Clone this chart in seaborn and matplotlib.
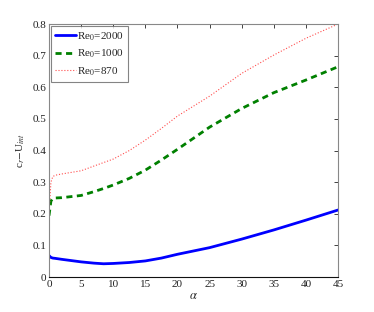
import matplotlib
matplotlib.use('Agg')
import matplotlib.pyplot as plt
import seaborn as sns
import pandas as pd
from matplotlib.ticker import FormatStrFormatter

# angle values (deg)
alpha = [0, 0.3, 0.6, 1, 2, 5, 7, 8.5, 10, 12.5, 15, 17.5, 20, 25, 30, 35, 40, 45]

# c_r - U_int for each Re_0
re2000 = [0.068, 0.062, 0.060, 0.059, 0.056, 0.048, 0.044, 0.042, 0.043, 0.046,
          0.051, 0.060, 0.072, 0.093, 0.120, 0.149, 0.180, 0.212]
re1000 = [0.194, 0.240, 0.249, 0.250, 0.251, 0.258, 0.270, 0.280, 0.291, 0.312,
          0.338, 0.370, 0.404, 0.474, 0.533, 0.583, 0.623, 0.665]
re870 = [0.20, 0.300, 0.318, 0.322, 0.326, 0.336, 0.351, 0.362, 0.373, 0.400,
         0.433, 0.470, 0.509, 0.572, 0.644, 0.702, 0.755, 0.800]

labels = ['Re$_0$=2000', 'Re$_0$=1000', 'Re$_0$=870']

df = pd.DataFrame({
    'alpha': alpha * 3,
    'value': re2000 + re1000 + re870,
    'series': [labels[0]] * len(alpha) + [labels[1]] * len(alpha) + [labels[2]] * len(alpha),
})

sns.set_style('white')
plt.rcParams['font.family'] = ['Liberation Serif', 'DejaVu Serif']
plt.rcParams['mathtext.fontset'] = 'stix'

fig = plt.figure(figsize=(3.74, 3.12), dpi=100)
ax = fig.add_axes([0.131, 0.112, 0.773, 0.811])

styles = {labels[0]: ('#0000ff', '-', 2.0),
          labels[1]: ('#008000', (0, (2.2, 1.6)), 2.0),
          labels[2]: ('#ff4d4d', ':', 0.8)}
for lab in labels:
    c, ls, lw = styles[lab]
    sns.lineplot(data=df[df['series'] == lab], x='alpha', y='value', ax=ax,
                 color=c, linestyle=ls, linewidth=lw, label=lab,
                 estimator=None, sort=False)

ax.set_xlim(0, 45)
ax.set_ylim(0, 0.8)
ax.set_xticks(range(0, 46, 5))
ax.set_yticks([i / 10 for i in range(9)])
ax.yaxis.set_major_formatter(FormatStrFormatter('%g'))
ax.tick_params(direction='in', length=3, width=0.6, top=True, right=True,
               labelsize=8, pad=2, colors='#222222')
for side in ['top', 'right', 'left']:
    ax.spines[side].set_color('#888888')
    ax.spines[side].set_linewidth(0.8)
ax.spines['bottom'].set_color('#111111')
ax.spines['bottom'].set_linewidth(0.8)

ax.set_xlabel(r'$\alpha$', fontsize=9, labelpad=1)
ax.set_ylabel(r'c$_r$$-$U$_{int}$', fontsize=8, labelpad=4)

leg = ax.legend(loc='upper left', fontsize=8, frameon=True, fancybox=False,
                borderaxespad=0.2, handlelength=1.9, handletextpad=0.05,
                labelspacing=0.45, borderpad=0.35)
leg.get_frame().set_edgecolor('#666666')
leg.get_frame().set_linewidth(0.8)

fig.savefig('out.png', dpi=100)
